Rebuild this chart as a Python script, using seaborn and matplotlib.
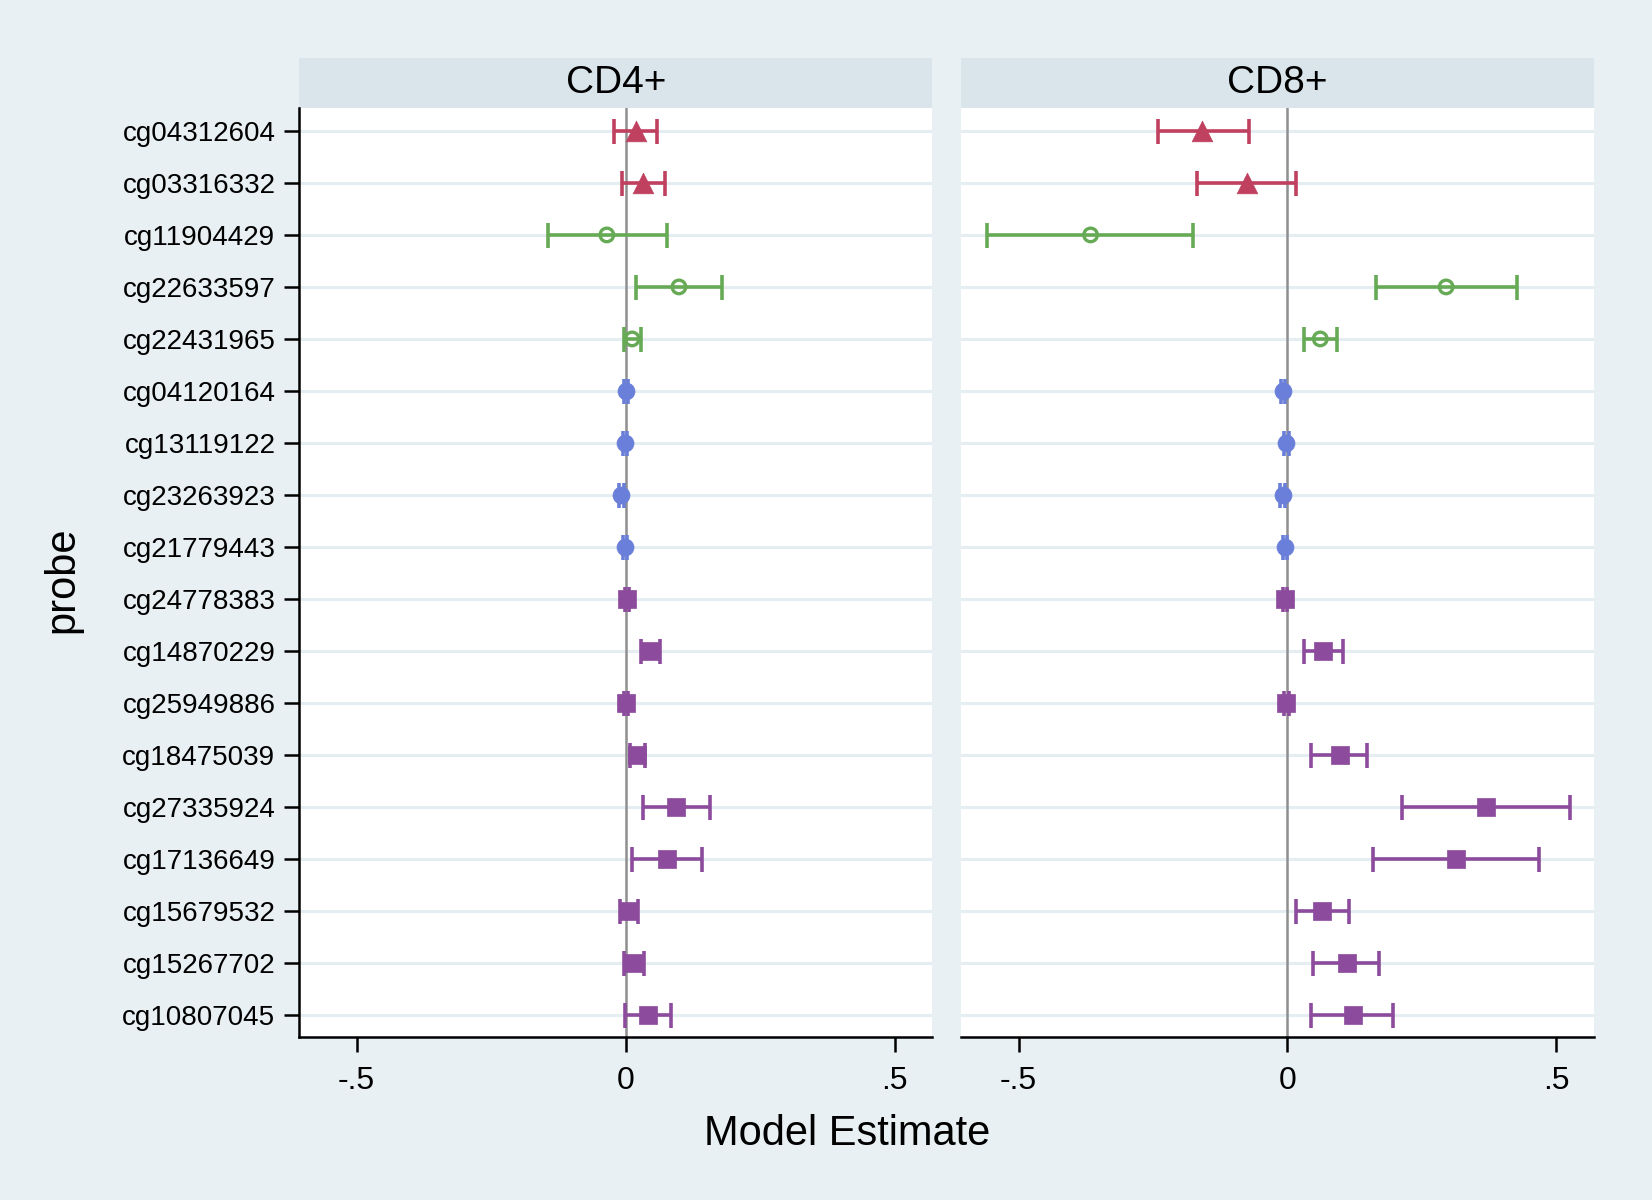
import numpy as np
import pandas as pd
import matplotlib
matplotlib.use("Agg")
import matplotlib.pyplot as plt
import seaborn as sns
from matplotlib.patches import Rectangle

sns.set_style("white")
plt.rcParams['font.family'] = ['Liberation Sans', 'DejaVu Sans']
plt.rcParams['text.color'] = 'black'

# probes, top to bottom
probes = ["cg04312604", "cg03316332", "cg11904429", "cg22633597", "cg22431965",
          "cg04120164", "cg13119122", "cg23263923", "cg21779443", "cg24778383",
          "cg14870229", "cg25949886", "cg18475039", "cg27335924", "cg17136649",
          "cg15679532", "cg15267702", "cg10807045"]
groups = ["tri"] * 2 + ["ring"] * 3 + ["dot"] * 4 + ["sq"] * 9

cd4_est = [0.019, 0.033, -0.035, 0.099, 0.012, 0.000, -0.002, -0.008, -0.002, 0.003,
           0.046, 0.001, 0.022, 0.094, 0.077, 0.006, 0.014, 0.042]
cd4_lo = [-0.022, -0.006, -0.145, 0.019, -0.003, -0.004, -0.005, -0.012, -0.005, -0.001,
          0.028, -0.003, 0.008, 0.032, 0.012, -0.011, -0.004, -0.001]
cd4_hi = [0.058, 0.073, 0.076, 0.179, 0.029, 0.004, 0.002, -0.004, 0.002, 0.007,
          0.064, 0.005, 0.036, 0.157, 0.142, 0.023, 0.035, 0.085]

cd8_est = [-0.158, -0.076, -0.366, 0.295, 0.061, -0.008, -0.002, -0.009, -0.005, -0.005,
           0.067, -0.002, 0.097, 0.369, 0.314, 0.065, 0.110, 0.121]
cd8_lo = [-0.241, -0.168, -0.558, 0.164, 0.031, -0.012, -0.006, -0.013, -0.009, -0.009,
          0.030, -0.006, 0.044, 0.213, 0.159, 0.015, 0.048, 0.044]
cd8_hi = [-0.072, 0.015, -0.175, 0.426, 0.092, -0.004, 0.002, -0.005, -0.001, -0.001,
          0.104, 0.002, 0.147, 0.525, 0.468, 0.115, 0.170, 0.196]

panels = ["CD4+", "CD8+"]
xticks = [-0.5, 0, 0.5]
xticklabels = ["-.5", "0", ".5"]

colors = {"tri": "#c0405f", "ring": "#66aa55", "dot": "#6a7fd9", "sq": "#8c4b9c"}
styles = {
    "tri": dict(marker="^", s=220),
    "ring": dict(marker="o", s=95),
    "dot": dict(marker="o", s=150),
    "sq": dict(marker="s", s=150),
}

frames = []
for panel, est, lo, hi in [("CD4+", cd4_est, cd4_lo, cd4_hi), ("CD8+", cd8_est, cd8_lo, cd8_hi)]:
    frames.append(pd.DataFrame({"panel": panel, "probe": probes, "group": groups,
                                "pos": np.arange(len(probes)), "est": est, "lo": lo, "hi": hi}))
df = pd.concat(frames, ignore_index=True)

bg = "#e8f0f3"
fig = plt.figure(figsize=(16.52, 12), dpi=100, facecolor=bg)
axes = [fig.add_axes([0.181, 0.136, 0.3834, 0.7744]),
        fig.add_axes([0.5817, 0.136, 0.3832, 0.7744])]

for ax, panel in zip(axes, panels):
    d = df[df["panel"] == panel]
    ax.set_facecolor("white")
    for p in d["pos"]:
        ax.axhline(p, color="#e4edf1", lw=2.2, zorder=0)
    ax.axvline(0, color="#8f8f8f", lw=1.8, zorder=1)

    for g, sub in d.groupby("group", sort=False):
        c = colors[g]
        ax.errorbar(sub["est"], sub["pos"],
                    xerr=[sub["est"] - sub["lo"], sub["hi"] - sub["est"]],
                    fmt="none", ecolor=c, elinewidth=2.6, capsize=9, capthick=2.6, zorder=2)
        if g == "ring":
            sns.scatterplot(data=sub, x="est", y="pos", ax=ax, facecolor="none",
                            edgecolor=c, linewidth=2.4, zorder=3, legend=False, **styles[g])
        else:
            sns.scatterplot(data=sub, x="est", y="pos", ax=ax, color=c,
                            edgecolor=c, linewidth=0.5, zorder=3, legend=False, **styles[g])

    ax.set_xlim(-0.607, 0.57)
    ax.set_ylim(17.42, -0.45)
    ax.set_xticks(xticks)
    ax.set_xticklabels(xticklabels, fontsize=23)
    ax.set_xlabel("")
    ax.set_ylabel("")
    ax.tick_params(axis="x", bottom=True, direction="out", length=11, width=1.8, pad=10,
                   colors="black", labelcolor="black")
    for s in ["top", "right"]:
        ax.spines[s].set_visible(False)
    ax.spines["bottom"].set_color("black")
    ax.spines["bottom"].set_linewidth(1.8)

    # header strip
    ax.add_patch(Rectangle((0, 1), 1, 0.0533, transform=ax.transAxes,
                           facecolor="#d9e5eb", edgecolor="none", clip_on=False))
    ax.text(0.5, 1.0267, panel, transform=ax.transAxes, ha="center", va="center",
            fontsize=28, color="black")

axes[0].set_yticks(range(len(probes)))
axes[0].set_yticklabels(probes, fontsize=20)
axes[0].tick_params(axis="y", left=True, direction="out", length=11, width=1.8, pad=6,
                    colors="black", labelcolor="black")
axes[0].spines["left"].set_color("black")
axes[0].spines["left"].set_linewidth(1.8)
axes[1].set_yticks([])
axes[1].spines["left"].set_visible(False)

fig.text(0.5125, 0.055, "Model Estimate", ha="center", va="center", fontsize=30, color="black")
fig.text(0.038, 0.517, "probe", ha="center", va="center", rotation=90, fontsize=30, color="black")

fig.savefig("out.png", dpi=100, facecolor=bg)
